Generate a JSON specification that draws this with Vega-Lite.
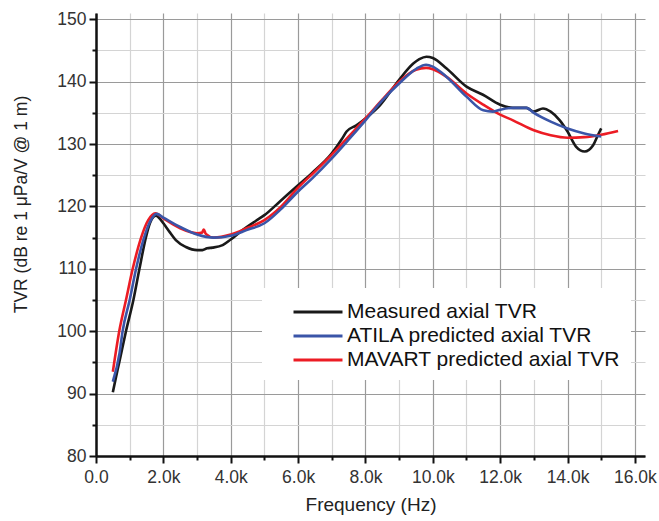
{
  "$schema": "https://vega.github.io/schema/vega-lite/v6.json",
  "width": 549,
  "height": 443,
  "autosize": "none",
  "padding": {"left": 96, "top": 13, "right": 14, "bottom": 65},
  "background": "white",
  "config": {
    "view": {"stroke": null},
    "font": "Liberation Sans",
    "axis": {"labelFont": "Liberation Sans", "titleFont": "Liberation Sans", "labelColor": "#333", "titleColor": "#222", "titleFontWeight": "normal", "labelFontSize": 17.5, "titleFontSize": 19}
  },
  "data": {"values": [
    {"f":500,"v":90.2,"s":"Measured axial TVR"},{"f":600,"v":92.8,"s":"Measured axial TVR"},{"f":690,"v":95,"s":"Measured axial TVR"},{"f":890,"v":100,"s":"Measured axial TVR"},{"f":1110,"v":105,"s":"Measured axial TVR"},{"f":1290,"v":110,"s":"Measured axial TVR"},{"f":1480,"v":115,"s":"Measured axial TVR"},{"f":1600,"v":117.3,"s":"Measured axial TVR"},{"f":1700,"v":118.3,"s":"Measured axial TVR"},{"f":1780,"v":118.5,"s":"Measured axial TVR"},{"f":1900,"v":118.0,"s":"Measured axial TVR"},{"f":2000,"v":117.3,"s":"Measured axial TVR"},{"f":2200,"v":115.8,"s":"Measured axial TVR"},{"f":2370,"v":114.6,"s":"Measured axial TVR"},{"f":2670,"v":113.5,"s":"Measured axial TVR"},{"f":3000,"v":113.0,"s":"Measured axial TVR"},{"f":3160,"v":113.0,"s":"Measured axial TVR"},{"f":3300,"v":113.3,"s":"Measured axial TVR"},{"f":3460,"v":113.4,"s":"Measured axial TVR"},{"f":3760,"v":113.8,"s":"Measured axial TVR"},{"f":4000,"v":114.7,"s":"Measured axial TVR"},{"f":4350,"v":116.2,"s":"Measured axial TVR"},{"f":4750,"v":117.7,"s":"Measured axial TVR"},{"f":5000,"v":118.6,"s":"Measured axial TVR"},{"f":5460,"v":120.8,"s":"Measured axial TVR"},{"f":6000,"v":123.4,"s":"Measured axial TVR"},{"f":6400,"v":125.3,"s":"Measured axial TVR"},{"f":7000,"v":128.5,"s":"Measured axial TVR"},{"f":7300,"v":130.8,"s":"Measured axial TVR"},{"f":7440,"v":132.0,"s":"Measured axial TVR"},{"f":7730,"v":133.0,"s":"Measured axial TVR"},{"f":8000,"v":134.1,"s":"Measured axial TVR"},{"f":8430,"v":136.2,"s":"Measured axial TVR"},{"f":9000,"v":140.3,"s":"Measured axial TVR"},{"f":9420,"v":142.9,"s":"Measured axial TVR"},{"f":9600,"v":143.6,"s":"Measured axial TVR"},{"f":9810,"v":144.0,"s":"Measured axial TVR"},{"f":10000,"v":143.8,"s":"Measured axial TVR"},{"f":10410,"v":142.1,"s":"Measured axial TVR"},{"f":11000,"v":139.2,"s":"Measured axial TVR"},{"f":11490,"v":137.9,"s":"Measured axial TVR"},{"f":12000,"v":136.3,"s":"Measured axial TVR"},{"f":12380,"v":135.8,"s":"Measured axial TVR"},{"f":12780,"v":135.8,"s":"Measured axial TVR"},{"f":13000,"v":135.2,"s":"Measured axial TVR"},{"f":13270,"v":135.7,"s":"Measured axial TVR"},{"f":13500,"v":135.2,"s":"Measured axial TVR"},{"f":13770,"v":133.8,"s":"Measured axial TVR"},{"f":14000,"v":132.0,"s":"Measured axial TVR"},{"f":14250,"v":129.6,"s":"Measured axial TVR"},{"f":14510,"v":128.8,"s":"Measured axial TVR"},{"f":14760,"v":129.8,"s":"Measured axial TVR"},{"f":14900,"v":131.4,"s":"Measured axial TVR"},{"f":15000,"v":132.5,"s":"Measured axial TVR"},
    {"f":500,"v":93.5,"s":"MAVART predicted axial TVR"},{"f":690,"v":100,"s":"MAVART predicted axial TVR"},{"f":890,"v":105,"s":"MAVART predicted axial TVR"},{"f":1090,"v":110,"s":"MAVART predicted axial TVR"},{"f":1340,"v":115,"s":"MAVART predicted axial TVR"},{"f":1550,"v":117.8,"s":"MAVART predicted axial TVR"},{"f":1760,"v":118.9,"s":"MAVART predicted axial TVR"},{"f":2000,"v":118.1,"s":"MAVART predicted axial TVR"},{"f":2500,"v":116.5,"s":"MAVART predicted axial TVR"},{"f":3000,"v":115.7,"s":"MAVART predicted axial TVR"},{"f":3150,"v":115.8,"s":"MAVART predicted axial TVR"},{"f":3200,"v":116.3,"s":"MAVART predicted axial TVR"},{"f":3260,"v":115.6,"s":"MAVART predicted axial TVR"},{"f":3500,"v":115.0,"s":"MAVART predicted axial TVR"},{"f":4000,"v":115.5,"s":"MAVART predicted axial TVR"},{"f":4470,"v":116.5,"s":"MAVART predicted axial TVR"},{"f":5000,"v":117.8,"s":"MAVART predicted axial TVR"},{"f":5500,"v":120.0,"s":"MAVART predicted axial TVR"},{"f":6000,"v":123.0,"s":"MAVART predicted axial TVR"},{"f":6500,"v":125.6,"s":"MAVART predicted axial TVR"},{"f":7000,"v":128.3,"s":"MAVART predicted axial TVR"},{"f":7500,"v":131.2,"s":"MAVART predicted axial TVR"},{"f":8000,"v":134.1,"s":"MAVART predicted axial TVR"},{"f":8500,"v":137.1,"s":"MAVART predicted axial TVR"},{"f":9000,"v":140.0,"s":"MAVART predicted axial TVR"},{"f":9500,"v":141.9,"s":"MAVART predicted axial TVR"},{"f":9800,"v":142.2,"s":"MAVART predicted axial TVR"},{"f":10000,"v":142.0,"s":"MAVART predicted axial TVR"},{"f":10400,"v":140.8,"s":"MAVART predicted axial TVR"},{"f":11000,"v":138.1,"s":"MAVART predicted axial TVR"},{"f":11500,"v":136.3,"s":"MAVART predicted axial TVR"},{"f":12000,"v":134.7,"s":"MAVART predicted axial TVR"},{"f":12380,"v":133.8,"s":"MAVART predicted axial TVR"},{"f":13000,"v":132.2,"s":"MAVART predicted axial TVR"},{"f":13500,"v":131.4,"s":"MAVART predicted axial TVR"},{"f":14000,"v":131.0,"s":"MAVART predicted axial TVR"},{"f":14500,"v":131.1,"s":"MAVART predicted axial TVR"},{"f":15000,"v":131.5,"s":"MAVART predicted axial TVR"},{"f":15500,"v":132.1,"s":"MAVART predicted axial TVR"},
    {"f":500,"v":91.9,"s":"ATILA predicted axial TVR"},{"f":700,"v":96.5,"s":"ATILA predicted axial TVR"},{"f":790,"v":100,"s":"ATILA predicted axial TVR"},{"f":1000,"v":105,"s":"ATILA predicted axial TVR"},{"f":1190,"v":110,"s":"ATILA predicted axial TVR"},{"f":1400,"v":114.5,"s":"ATILA predicted axial TVR"},{"f":1600,"v":117.5,"s":"ATILA predicted axial TVR"},{"f":1800,"v":118.8,"s":"ATILA predicted axial TVR"},{"f":2000,"v":118.2,"s":"ATILA predicted axial TVR"},{"f":2500,"v":116.7,"s":"ATILA predicted axial TVR"},{"f":3000,"v":115.5,"s":"ATILA predicted axial TVR"},{"f":3500,"v":115.0,"s":"ATILA predicted axial TVR"},{"f":4000,"v":115.3,"s":"ATILA predicted axial TVR"},{"f":4470,"v":116.2,"s":"ATILA predicted axial TVR"},{"f":5000,"v":117.3,"s":"ATILA predicted axial TVR"},{"f":5460,"v":119.4,"s":"ATILA predicted axial TVR"},{"f":6000,"v":122.4,"s":"ATILA predicted axial TVR"},{"f":6420,"v":124.5,"s":"ATILA predicted axial TVR"},{"f":7000,"v":127.7,"s":"ATILA predicted axial TVR"},{"f":7500,"v":130.7,"s":"ATILA predicted axial TVR"},{"f":8000,"v":133.8,"s":"ATILA predicted axial TVR"},{"f":8500,"v":137.0,"s":"ATILA predicted axial TVR"},{"f":9000,"v":139.7,"s":"ATILA predicted axial TVR"},{"f":9520,"v":142.1,"s":"ATILA predicted axial TVR"},{"f":9800,"v":142.7,"s":"ATILA predicted axial TVR"},{"f":10000,"v":142.4,"s":"ATILA predicted axial TVR"},{"f":10400,"v":140.8,"s":"ATILA predicted axial TVR"},{"f":11000,"v":137.6,"s":"ATILA predicted axial TVR"},{"f":11500,"v":135.4,"s":"ATILA predicted axial TVR"},{"f":11790,"v":135.2,"s":"ATILA predicted axial TVR"},{"f":12000,"v":135.5,"s":"ATILA predicted axial TVR"},{"f":12380,"v":135.8,"s":"ATILA predicted axial TVR"},{"f":12780,"v":135.8,"s":"ATILA predicted axial TVR"},{"f":13000,"v":135.0,"s":"ATILA predicted axial TVR"},{"f":13500,"v":133.6,"s":"ATILA predicted axial TVR"},{"f":14000,"v":132.5,"s":"ATILA predicted axial TVR"},{"f":14500,"v":131.7,"s":"ATILA predicted axial TVR"},{"f":15000,"v":131.2,"s":"ATILA predicted axial TVR"}
  ]},
  "mark": {"type": "line", "strokeWidth": 2.6, "interpolate": "monotone"},
  "encoding": {
    "x": {
      "field": "f", "type": "quantitative",
      "scale": {"domain": [0, 16300], "nice": false, "zero": false},
      "axis": {
        "title": "Frequency (Hz)", "titlePadding": 10,
        "values": [0,1000,2000,3000,4000,5000,6000,7000,8000,9000,10000,11000,12000,13000,14000,15000,16000],
        "labelExpr": "datum.value % 2000 != 0 ? '' : (datum.value == 0 ? '0.0' : format(datum.value/1000, '.1f') + 'k')",
        "labelPadding": 5,
        "domainColor": "#111", "domainWidth": 2.5,
        "tickColor": "#111", "tickWidth": 2,
        "tickSize": {"condition": {"test": "datum.value % 2000 == 0", "value": 7}, "value": 4},
        "grid": true,
        "gridColor": {"condition": {"test": "datum.value % 2000 == 0", "value": "#9a9a9a"}, "value": "#d4d4d4"},
        "gridWidth": 1.2,
        "labelFlush": false
      }
    },
    "y": {
      "field": "v", "type": "quantitative",
      "scale": {"domain": [80, 151], "nice": false, "zero": false},
      "axis": {
        "title": "TVR (dB re 1 μPa/V @ 1 m)", "titlePadding": 26, "titleFontSize": 17.5, "titleY": 191,
        "values": [80,85,90,95,100,105,110,115,120,125,130,135,140,145,150],
        "labelExpr": "datum.value % 10 != 0 ? '' : format(datum.value, 'd')",
        "labelPadding": 3,
        "domainColor": "#111", "domainWidth": 2.5,
        "tickColor": "#111", "tickWidth": 2,
        "tickSize": {"condition": {"test": "datum.value % 10 == 0", "value": 7}, "value": 4},
        "grid": true,
        "gridColor": {"condition": {"test": "datum.value % 10 == 0", "value": "#9a9a9a"}, "value": "#d4d4d4"},
        "gridWidth": 1.2,
        "labelFlush": false
      }
    },
    "color": {
      "field": "s", "type": "nominal",
      "scale": {"domain": ["Measured axial TVR", "ATILA predicted axial TVR", "MAVART predicted axial TVR"], "range": ["#1a1a1a", "#3a55a8", "#ec1c24"]},
      "legend": {
        "title": null, "orient": "none", "legendX": 166, "legendY": 275,
        "fillColor": "white", "padding": 10, "symbolOffset": 32,
        "symbolType": "M-2,0H2", "symbolSize": 600, "symbolStrokeWidth": 3,
        "labelFontSize": 21, "labelFont": "Liberation Sans", "labelColor": "#111", "labelOffset": 15, "labelLimit": 400,
        "rowPadding": -2
      }
    }
  }
}
